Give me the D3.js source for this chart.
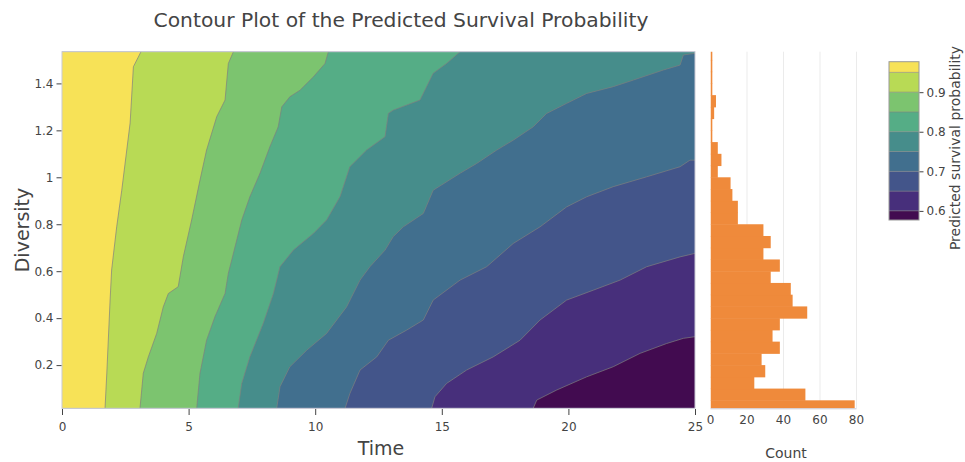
<!DOCTYPE html>
<html>
<head>
<meta charset="utf-8">
<script src="https://cdn.jsdelivr.net/npm/d3@7"></script>
<style>
  html, body { margin: 0; padding: 0; background: #fff; }
  svg { display: block; font-family: "DejaVu Sans", Verdana, sans-serif; }
</style>
</head>
<body>
<svg id="chart" width="965" height="462"></svg>
<script>
// ---- data ----------------------------------------------------------------
const timeRange = [0, 25];
const diversityRange = [0.016, 1.535];

// contour levels of predicted survival probability
const levels = [0.6, 0.65, 0.7, 0.75, 0.8, 0.85, 0.9, 0.95];
// fill of each band, lowest band (< 0.6) first
const bandColors = ["#420b50", "#472f7b", "#43558a", "#416f8e", "#468d8b",
                    "#55ad86", "#7cc46f", "#b8da55", "#f7e257"];

// iso-lines as [time, diversity] points, running bottom to top / right edge
const iso060 = [[18.61,0.016],[18.75,0.051],[19.54,0.094],[20.72,0.150],[21.77,0.193],
  [22.83,0.250],[23.88,0.292],[24.54,0.314],[25,0.321]];
const iso065 = [[14.60,0.016],[14.73,0.065],[15.19,0.122],[15.98,0.179],[17.03,0.235],
  [18.09,0.306],[18.88,0.392],[19.93,0.477],[20.98,0.519],[22.04,0.562],[23.09,0.619],
  [24.41,0.661],[25,0.676]];
const iso070 = [[11.18,0.016],[11.37,0.079],[11.77,0.179],[12.43,0.235],[12.89,0.306],
  [13.61,0.349],[14.27,0.392],[14.66,0.477],[15.72,0.562],[16.77,0.619],[17.82,0.718],
  [18.88,0.789],[19.93,0.874],[20.72,0.917],[21.77,0.960],[23.09,1.002],[24.41,1.045],
  [24.80,1.073],[25,1.073]];
const iso075 = [[8.48,0.016],[8.61,0.108],[9.00,0.193],[9.67,0.264],[10.45,0.335],
  [11.24,0.448],[11.77,0.562],[12.16,0.619],[12.76,0.690],[13.08,0.747],[13.48,0.789],
  [14.27,0.846],[14.66,0.945],[15.72,1.017],[16.38,1.059],[17.17,1.116],[17.82,1.158],
  [18.61,1.215],[19.14,1.272],[19.93,1.315],[20.72,1.357],[21.77,1.386],[22.56,1.414],
  [23.75,1.457],[24.41,1.478],[24.54,1.521],[25,1.528]];
const iso080 = [[6.96,0.016],[7.10,0.122],[7.42,0.235],[7.95,0.378],[8.35,0.505],
  [8.61,0.619],[9.14,0.690],[9.93,0.761],[10.45,0.818],[10.98,0.917],[11.37,1.045],
  [12.03,1.116],[12.76,1.173],[12.89,1.272],[13.08,1.286],[14.14,1.329],[14.66,1.443],
  [15.19,1.485],[15.72,1.535]];
const iso085 = [[5.32,0.016],[5.45,0.165],[5.71,0.306],[6.04,0.406],[6.44,0.505],
  [6.57,0.591],[6.77,0.676],[7.10,0.818],[7.42,0.917],[7.82,1.017],[8.21,1.130],
  [8.54,1.215],[8.68,1.300],[9.00,1.343],[9.40,1.371],[9.93,1.428],[10.39,1.485],
  [10.52,1.535]];
const iso090 = [[3.08,0.016],[3.21,0.165],[3.41,0.235],[3.74,0.335],[4.00,0.448],
  [4.20,0.505],[4.59,0.534],[4.79,0.661],[5.12,0.818],[5.45,0.988],[5.71,1.116],
  [6.11,1.258],[6.44,1.329],[6.57,1.485],[6.77,1.535]];
const iso095 = [[1.70,0.016],[1.77,0.166],[1.90,0.477],[1.96,0.605],[2.16,0.789],
  [2.36,0.945],[2.69,1.231],[2.82,1.471],[3.12,1.535]];
const isoLines = [iso060, iso065, iso070, iso075, iso080, iso085, iso090, iso095];

// histogram of diversity, bins of width 0.05 starting at 0
const binWidth = 0.05;
const binCounts = [79, 52, 24, 30, 28, 38, 34, 38, 53, 45, 44, 33, 38, 29, 33, 29,
                   15, 15, 12, 11, 4, 6, 4, 1, 1, 2, 3, 1, 1, 1, 1];

const timeTicks = [0, 5, 10, 15, 20, 25];
const diversityTicks = [0.2, 0.4, 0.6, 0.8, 1, 1.2, 1.4];
const countTicks = [0, 20, 40, 60, 80];
const colorbarTicks = [0.6, 0.7, 0.8, 0.9];
const colorbarRange = [0.577, 0.977];

// ---- layout --------------------------------------------------------------
const svg = d3.select("#chart");
const textColor = "#444";
const lineColor = "#7f7f7f";

const main = { left: 62, right: 695, top: 51.7, bottom: 408.3 };
const hist = { left: 710.5, right: 856.5 };
const cbar = { left: 889, right: 919, top: 61.7, bottom: 220 };

const x = d3.scaleLinear().domain(timeRange).range([main.left, main.right]);
const y = d3.scaleLinear().domain(diversityRange).range([main.bottom, main.top]);
const hx = d3.scaleLinear().domain([0, 80]).range([hist.left, hist.right]);
const cy = d3.scaleLinear().domain(colorbarRange).range([cbar.bottom, cbar.top]);

// ---- title ---------------------------------------------------------------
svg.append("text")
  .attr("x", 401).attr("y", 27)
  .attr("text-anchor", "middle")
  .attr("font-size", 20.3).attr("fill", textColor)
  .text("Contour Plot of the Predicted Survival Probability");

// ---- contour panel -------------------------------------------------------
const defs = svg.append("defs");
defs.append("clipPath").attr("id", "mainClip")
  .append("rect")
  .attr("x", main.left).attr("y", main.top)
  .attr("width", main.right - main.left).attr("height", main.bottom - main.top);

const contour = svg.append("g").attr("clip-path", "url(#mainClip)");

contour.append("rect")
  .attr("x", main.left).attr("y", main.top)
  .attr("width", main.right - main.left).attr("height", main.bottom - main.top)
  .attr("fill", bandColors[0]);

const toPx = d3.line().x(d => x(d[0])).y(d => y(d[1]));

// region above each level lies to the left of its iso-line
isoLines.forEach((pts, i) => {
  const last = pts[pts.length - 1];
  const poly = [[timeRange[0], diversityRange[0]], ...pts];
  if (last[0] >= timeRange[1]) poly.push([timeRange[1], diversityRange[1]]);
  poly.push([timeRange[0], diversityRange[1]]);
  contour.append("path")
    .attr("d", toPx(poly) + "Z")
    .attr("fill", bandColors[i + 1]);
});

isoLines.forEach(pts => {
  contour.append("path")
    .attr("d", toPx(pts))
    .attr("fill", "none")
    .attr("stroke", lineColor)
    .attr("stroke-width", 0.7);
});

// frame
svg.append("rect")
  .attr("x", main.left).attr("y", main.top)
  .attr("width", main.right - main.left).attr("height", main.bottom - main.top)
  .attr("fill", "none").attr("stroke", "#c9c9d4").attr("stroke-width", 1);

// x axis
const xAxis = svg.append("g")
  .attr("transform", `translate(0,${main.bottom + 0.7})`)
  .call(d3.axisBottom(x).tickValues(timeTicks).tickSize(6).tickPadding(7).tickFormat(d3.format("d")));
xAxis.select(".domain").remove();
xAxis.selectAll("line").attr("stroke", textColor).attr("stroke-width", 1);
xAxis.selectAll("text").attr("font-size", 12).attr("fill", textColor)
  .attr("font-family", "DejaVu Sans, Verdana, sans-serif");

svg.append("text")
  .attr("x", 381).attr("y", 455)
  .attr("text-anchor", "middle")
  .attr("font-size", 19).attr("fill", textColor)
  .text("Time");

// y axis
const yAxis = svg.append("g")
  .attr("transform", `translate(${main.left - 0.5},0)`)
  .call(d3.axisLeft(y).tickValues(diversityTicks).tickSize(5).tickPadding(3)
    .tickFormat(d => d3.format("~g")(d)));
yAxis.select(".domain").remove();
yAxis.selectAll("line").attr("stroke", textColor).attr("stroke-width", 1);
yAxis.selectAll("text").attr("font-size", 12).attr("fill", textColor)
  .attr("font-family", "DejaVu Sans, Verdana, sans-serif");

svg.append("text")
  .attr("transform", "translate(29,230) rotate(-90)")
  .attr("text-anchor", "middle")
  .attr("font-size", 19).attr("fill", textColor)
  .text("Diversity");

// ---- histogram panel -----------------------------------------------------
defs.append("clipPath").attr("id", "histClip")
  .append("rect")
  .attr("x", hist.left).attr("y", main.top)
  .attr("width", hist.right - hist.left + 4).attr("height", main.bottom - main.top);

svg.append("g").selectAll("line")
  .data(countTicks.filter(c => c > 0))
  .join("line")
  .attr("x1", d => hx(d)).attr("x2", d => hx(d))
  .attr("y1", main.top).attr("y2", main.bottom)
  .attr("stroke", "#ebebeb").attr("stroke-width", 1);

// bars overlap by half a pixel so neighbouring bins join without seams
const bins = binCounts.map((c, i) => ({ lo: i * binWidth, hi: (i + 1) * binWidth, count: c }));
svg.append("g").attr("clip-path", "url(#histClip)")
  .selectAll("rect")
  .data(bins)
  .join("rect")
  .attr("x", hx(0))
  .attr("y", d => y(d.hi))
  .attr("width", d => hx(d.count) - hx(0))
  .attr("height", d => y(d.lo) - y(d.hi) + 0.5)
  .attr("fill", "#ef8a3b");

svg.append("line")
  .attr("x1", hist.left).attr("x2", hist.right)
  .attr("y1", main.bottom + 0.5).attr("y2", main.bottom + 0.5)
  .attr("stroke", "#c9c9d4");

svg.append("g").selectAll("text")
  .data(countTicks)
  .join("text")
  .attr("x", d => hx(d)).attr("y", 424)
  .attr("text-anchor", "middle")
  .attr("font-size", 12).attr("fill", textColor)
  .text(d => d);

svg.append("text")
  .attr("x", 786).attr("y", 458)
  .attr("text-anchor", "middle")
  .attr("font-size", 14).attr("fill", textColor)
  .text("Count");

// ---- colour bar ----------------------------------------------------------
const edges = [colorbarRange[0], ...levels, colorbarRange[1]];
const cbg = svg.append("g");
cbg.selectAll("rect.band")
  .data(bandColors)
  .join("rect")
  .attr("class", "band")
  .attr("x", cbar.left)
  .attr("width", cbar.right - cbar.left)
  .attr("y", (d, i) => cy(edges[i + 1]))
  .attr("height", (d, i) => cy(edges[i]) - cy(edges[i + 1]))
  .attr("fill", d => d);

cbg.selectAll("line.lvl")
  .data(levels)
  .join("line")
  .attr("class", "lvl")
  .attr("x1", cbar.left).attr("x2", cbar.right)
  .attr("y1", d => cy(d)).attr("y2", d => cy(d))
  .attr("stroke", lineColor).attr("stroke-width", 0.6);

cbg.append("rect")
  .attr("x", cbar.left).attr("y", cbar.top)
  .attr("width", cbar.right - cbar.left).attr("height", cbar.bottom - cbar.top)
  .attr("fill", "none").attr("stroke", "#999").attr("stroke-width", 1);

const cAxis = svg.append("g")
  .attr("transform", `translate(${cbar.right + 0.5},0)`)
  .call(d3.axisRight(cy).tickValues(colorbarTicks).tickSize(4).tickPadding(3)
    .tickFormat(d3.format(".1f")));
cAxis.select(".domain").remove();
cAxis.selectAll("line").attr("stroke", textColor);
cAxis.selectAll("text").attr("font-size", 12).attr("fill", textColor)
  .attr("font-family", "DejaVu Sans, Verdana, sans-serif");

svg.append("text")
  .attr("transform", "translate(960,148) rotate(-90)")
  .attr("text-anchor", "middle")
  .attr("font-size", 14).attr("fill", textColor)
  .text("Predicted survival probability");
</script>
</body>
</html>
